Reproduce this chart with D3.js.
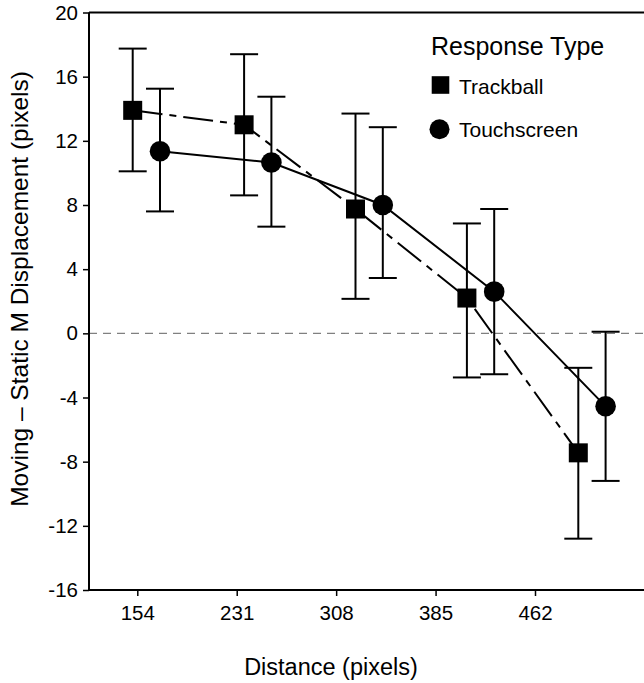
<!DOCTYPE html>
<html>
<head>
<meta charset="utf-8">
<script src="https://cdn.jsdelivr.net/npm/d3@7"></script>
<style>
    body { margin: 0; background: #fff; }
    text { font-family: "Liberation Sans", Arial, sans-serif; fill: #000; }
</style>
</head>
<body>
<div id="chart-div"></div>
<script>
//---------------------------------//
// Chart data                      //
//---------------------------------//

var distances = [154, 231, 308, 385, 462];                 //x categories (pixels)
var yTicks = [-16, -12, -8, -4, 0, 4, 8, 12, 16, 20];

var seriesNames = ['Trackball', 'Touchscreen'];

var trackballMean  = [13.9, 13.0, 7.75, 2.2, -7.45];
var trackballUpper = [17.75, 17.4, 13.7, 6.85, -2.15];
var trackballLower = [10.1, 8.6, 2.15, -2.75, -12.8];

var touchMean  = [11.35, 10.65, 8.0, 2.6, -4.55];
var touchUpper = [15.25, 14.75, 12.85, 7.75, 0.1];
var touchLower = [7.6, 6.65, 3.45, -2.55, -9.2];

window.Vis = window.Vis || {};

Vis.init = function() {
    Vis.setup.initConsts();
    Vis.setup.initGraph();
    Vis.core.drawAxes();
    Vis.core.drawSeries();
    Vis.core.drawLegend();
};

Vis.setup = {
    initConsts: function() {
        Vis.width = 644;
        Vis.height = 683;

        Vis.left = 89;              //y axis position
        Vis.top = 12.5;             //value 20
        Vis.bottom = 590;           //value -16
        Vis.right = 644;

        Vis.capHalf = 14;           //error bar cap half width
        Vis.squareSize = 19;
        Vis.circleR = 10.3;
    },

    initGraph: function() {
        Vis.svg = d3.select('#chart-div')
                    .append('svg')
                     .attr('width', Vis.width)
                     .attr('height', Vis.height);

        Vis.y = d3.scaleLinear()                                //value range
                  .domain([-16, 20])
                  .range([Vis.bottom, Vis.top]);

        Vis.xAxis = d3.scalePoint()                             //tick positions
                      .domain(distances)
                      .range([137.3, 535]);

        Vis.xMark = d3.scalePoint()                             //marker positions (offset from ticks in original)
                      .domain(distances)
                      .range([132.7, 578.3]);

        Vis.xSeries = d3.scalePoint()                           //offset of each series
                        .domain(seriesNames)
                        .range([0, 27.3]);

        Vis.series = [
            { name: 'Trackball', mean: trackballMean, upper: trackballUpper, lower: trackballLower, dash: '30,7,7,7', shape: 'square' },
            { name: 'Touchscreen', mean: touchMean, upper: touchUpper, lower: touchLower, dash: null, shape: 'circle' }
        ];
    },
};

Vis.core = {
    drawAxes: function() {
        var svg = Vis.svg;

        // frame top line
        svg.append('line')
           .attr('x1', Vis.left).attr('x2', Vis.right)
           .attr('y1', Vis.y(20)).attr('y2', Vis.y(20))
           .attr('stroke', '#000').attr('stroke-width', 2);

        // zero reference line
        svg.append('line')
           .attr('x1', Vis.left).attr('x2', Vis.right)
           .attr('y1', Vis.y(0)).attr('y2', Vis.y(0))
           .attr('stroke', '#808080').attr('stroke-width', 1.3)
           .attr('stroke-dasharray', '8,6');

        var yAxis = d3.axisLeft(Vis.y)
                      .tickValues(yTicks)
                      .tickSize(6)
                      .tickPadding(5)
                      .tickFormat(d3.format('d'));

        var gy = svg.append('g')
                    .attr('transform', 'translate(' + Vis.left + ',0)')
                    .call(yAxis);
        gy.select('.domain').attr('stroke-width', 2).attr('d', 'M0,' + Vis.top + 'V' + Vis.bottom);
        gy.selectAll('.tick line').attr('stroke-width', 1.5);
        gy.selectAll('.tick text')
          .style('font-size', '20.5px')
          .attr('font-family', null)
          .text(function(d) { return d < 0 ? '-' + Math.abs(d) : d; });

        var xAxis = d3.axisBottom(Vis.xAxis)
                      .tickSize(6)
                      .tickPadding(9.5);

        var gx = svg.append('g')
                    .attr('transform', 'translate(0,' + Vis.bottom + ')')
                    .call(xAxis);
        gx.select('.domain').attr('stroke-width', 2).attr('d', 'M' + Vis.left + ',0H' + Vis.right);
        gx.selectAll('.tick line').attr('stroke-width', 1.5);
        gx.selectAll('.tick text')
          .style('font-size', '20.5px')
          .attr('font-family', null);

        // axis titles
        svg.append('text')
           .attr('x', 331).attr('y', 675)
           .attr('text-anchor', 'middle')
           .style('font-size', '23.5px')
           .text('Distance (pixels)');

        svg.append('text')
           .attr('transform', 'translate(28,289) rotate(-90)')
           .attr('text-anchor', 'middle')
           .style('font-size', '24.5px')
           .text('Moving \u2013 Static M Displacement (pixels)');
    },

    drawSeries: function() {
        var svg = Vis.svg;

        Vis.series.forEach(function(s) {
            var off = Vis.xSeries(s.name);
            var px = function(i) { return Vis.xMark(distances[i]) + off; };
            var idx = d3.range(distances.length);

            // connecting line
            var line = d3.line()
                         .x(function(i) { return px(i); })
                         .y(function(i) { return Vis.y(s.mean[i]); });

            svg.append('path')
               .datum(idx)
               .attr('d', line)
               .attr('fill', 'none')
               .attr('stroke', '#000')
               .attr('stroke-width', 2)
               .attr('stroke-dasharray', s.dash);

            // error bars
            var g = svg.append('g').attr('stroke', '#000').attr('stroke-width', 2);
            g.selectAll('.bar').data(idx).enter().append('line')
             .attr('x1', px).attr('x2', px)
             .attr('y1', function(i) { return Vis.y(s.upper[i]); })
             .attr('y2', function(i) { return Vis.y(s.lower[i]); });
            g.selectAll('.capTop').data(idx).enter().append('line')
             .attr('x1', function(i) { return px(i) - Vis.capHalf; })
             .attr('x2', function(i) { return px(i) + Vis.capHalf; })
             .attr('y1', function(i) { return Vis.y(s.upper[i]); })
             .attr('y2', function(i) { return Vis.y(s.upper[i]); });
            g.selectAll('.capBot').data(idx).enter().append('line')
             .attr('x1', function(i) { return px(i) - Vis.capHalf; })
             .attr('x2', function(i) { return px(i) + Vis.capHalf; })
             .attr('y1', function(i) { return Vis.y(s.lower[i]); })
             .attr('y2', function(i) { return Vis.y(s.lower[i]); });

            // markers
            if (s.shape === 'square') {
                svg.selectAll('.sq').data(idx).enter().append('rect')
                   .attr('x', function(i) { return px(i) - Vis.squareSize / 2; })
                   .attr('y', function(i) { return Vis.y(s.mean[i]) - Vis.squareSize / 2; })
                   .attr('width', Vis.squareSize)
                   .attr('height', Vis.squareSize)
                   .attr('fill', '#000');
            } else {
                svg.selectAll('.ci').data(idx).enter().append('circle')
                   .attr('cx', px)
                   .attr('cy', function(i) { return Vis.y(s.mean[i]); })
                   .attr('r', Vis.circleR)
                   .attr('fill', '#000');
            }
        });
    },

    drawLegend: function() {
        var svg = Vis.svg;

        svg.append('text')
           .attr('x', 431).attr('y', 55)
           .style('font-size', '25px')
           .text('Response Type');

        svg.append('rect')
           .attr('x', 440.5 - 8.8).attr('y', 85 - 8.8)
           .attr('width', 17.6).attr('height', 17.6)
           .attr('fill', '#000');
        svg.append('text')
           .attr('x', 459).attr('y', 94)
           .style('font-size', '21px')
           .text(seriesNames[0]);

        svg.append('circle')
           .attr('cx', 439.5).attr('cy', 129.3)
           .attr('r', 10)
           .attr('fill', '#000');
        svg.append('text')
           .attr('x', 459).attr('y', 137)
           .style('font-size', '21px')
           .text(seriesNames[1]);
    }
};

document.addEventListener('DOMContentLoaded', Vis.init);
</script>
</body>
</html>
